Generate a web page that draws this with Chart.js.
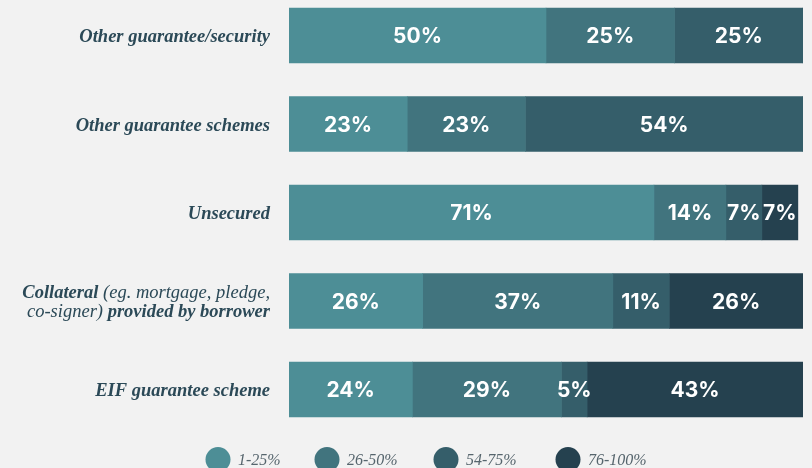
<!DOCTYPE html>
<html>
<head>
<meta charset="utf-8">
<script src="https://cdn.jsdelivr.net/npm/chart.js@4.4.0/dist/chart.umd.min.js"></script>
<style>
  html, body { margin: 0; padding: 0; background: #f2f2f2; }
  #wrap { width: 812px; height: 468px; position: relative; }
</style>
</head>
<body>
<div id="wrap"><canvas id="guaranteeChart"></canvas></div>
<script>
// Categories (text inside parentheses is drawn in regular weight)
const categories = [
    'Other guarantee/security',
    'Other guarantee schemes',
    'Unsecured',
    ['Collateral (eg. mortgage, pledge,', 'co-signer) provided by borrower'],
    'EIF guarantee scheme'
];
const seriesNames = ['1-25%', '26-50%', '54-75%', '76-100%'];
const share1to25 = [50, 23, 71, 26, 24];
const share26to50 = [25, 23, 14, 37, 29];
const share54to75 = [25, 54, 7, 11, 5];
const share76to100 = [0, 0, 7, 26, 43];
const seriesColors = ['#4d8e96', '#41747e', '#355e6a', '#25414f'];

const seriesValues = [share1to25, share26to50, share54to75, share76to100];

// Category labels on the left, right-aligned next to the bars
const categoryLabels = {
    id: 'categoryLabels',
    afterDraw(chart) {
        const ctx = chart.ctx;
        const yScale = chart.scales.y;
        const right = chart.chartArea.left - 19;
        const size = 18.5;
        const lineH = 19;
        ctx.save();
        ctx.fillStyle = '#2b4957';
        ctx.textBaseline = 'middle';
        categories.forEach((cat, i) => {
            const lines = Array.isArray(cat) ? cat : [cat];
            const cy = yScale.getPixelForValue(i) + 2;
            let inParen = false;
            lines.forEach((line, li) => {
                // split into runs: bold outside parentheses, regular inside
                const runs = [];
                let cur = '';
                for (const ch of line) {
                    if (ch === '(' && !inParen) {
                        if (cur) runs.push({ t: cur, bold: true });
                        cur = ch; inParen = true;
                    } else if (ch === ')' && inParen) {
                        cur += ch;
                        runs.push({ t: cur, bold: false });
                        cur = ''; inParen = false;
                    } else {
                        cur += ch;
                    }
                }
                if (cur) runs.push({ t: cur, bold: !inParen });
                const fontOf = r => `italic ${r.bold ? 'bold ' : ''}${size}px "Liberation Serif", "Times New Roman", serif`;
                let total = 0;
                runs.forEach(r => { ctx.font = fontOf(r); r.w = ctx.measureText(r.t).width; total += r.w; });
                let x = right - total;
                const y = cy + (li - (lines.length - 1) / 2) * lineH;
                ctx.textAlign = 'left';
                runs.forEach(r => {
                    ctx.font = fontOf(r);
                    ctx.fillText(r.t, x, y);
                    x += r.w;
                });
            });
        });
        ctx.restore();
    }
};

// Percent values written inside each segment
const segmentLabels = {
    id: 'segmentLabels',
    afterDatasetsDraw(chart) {
        const ctx = chart.ctx;
        const area = chart.chartArea;
        ctx.save();
        ctx.fillStyle = '#ffffff';
        ctx.font = '700 21px Inter, "DejaVu Sans", sans-serif';
        ctx.textAlign = 'center';
        ctx.textBaseline = 'middle';
        chart.data.datasets.forEach((ds, di) => {
            chart.getDatasetMeta(di).data.forEach((bar, i) => {
                const v = ds.data[i];
                if (!v) return;
                const x0 = Math.max(bar.base, area.left);
                const x1 = Math.min(bar.x, area.right);
                ctx.fillText(v + '%', (x0 + x1) / 2, bar.y + 1.5);
            });
        });
        ctx.restore();
    }
};

// Circle legend along the bottom
const circleLegend = {
    id: 'circleLegend',
    afterDraw(chart) {
        const ctx = chart.ctx;
        const centers = [218, 327, 446, 568];
        const y = 459.5;
        ctx.save();
        ctx.font = 'italic 16px "Liberation Serif", "Times New Roman", serif';
        ctx.textBaseline = 'alphabetic';
        ctx.textAlign = 'left';
        chart.data.datasets.forEach((ds, i) => {
            ctx.beginPath();
            ctx.arc(centers[i], y, 12.5, 0, Math.PI * 2);
            ctx.fillStyle = ds.backgroundColor;
            ctx.fill();
            ctx.fillStyle = '#56656d';
            ctx.fillText(ds.label, centers[i] + 20, 465);
        });
        ctx.restore();
    }
};

new Chart(document.getElementById('guaranteeChart'), {
    type: 'bar',
    data: {
        labels: categories,
        datasets: seriesNames.map((name, i) => ({
            label: name,
            data: seriesValues[i],
            backgroundColor: seriesColors[i],
            borderWidth: 0,
            barThickness: 55,
            clip: { left: 0, right: 0, top: 40, bottom: 40 }
        }))
    },
    options: {
        indexAxis: 'y',
        responsive: true,
        maintainAspectRatio: false,
        animation: false,
        events: [],
        layout: { padding: { left: 289, right: 9, top: 35.5, bottom: 78.5 } },
        scales: {
            x: { stacked: true, min: 0, max: 100, display: false },
            y: { stacked: true, offset: false, display: false }
        },
        plugins: {
            legend: { display: false },
            tooltip: { enabled: false }
        }
    },
    plugins: [categoryLabels, segmentLabels, circleLegend]
});
</script>
</body>
</html>
